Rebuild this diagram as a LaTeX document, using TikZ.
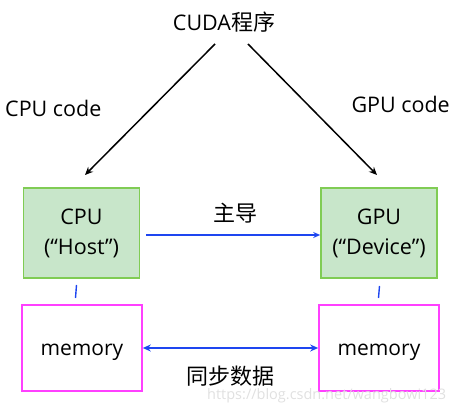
\documentclass[tikz,border=0pt]{standalone}
\usepackage{fontspec}
\setmainfont{Open Sans}
\newfontfamily\cjk{Noto Sans CJK SC}
\usetikzlibrary{arrows.meta}
\definecolor{gfill}{RGB}{200,230,202}
\definecolor{gline}{RGB}{128,204,84}
\definecolor{mline}{RGB}{255,64,255}
\definecolor{bline}{RGB}{30,70,240}
\tikzset{
  lbl/.style={font=\fontsize{21.5}{24}\selectfont, inner sep=0pt},
  zh/.style={font=\fontsize{22}{24}\cjk, inner sep=0pt},
  procbox/.style={draw=gline, fill=gfill, line width=1.6pt, minimum width=116pt, minimum height=90pt, align=center, font=\fontsize{21.5}{30}\selectfont},
  membox/.style={draw=mline, line width=1.6pt, minimum width=120pt, minimum height=86pt, text height=15pt, text depth=0pt, font=\fontsize{21}{24}\selectfont},
  flow/.style={-{Stealth[length=8pt,width=7pt]}, line width=1.5pt},
  blue/.style={draw=bline, line width=1.4pt}
}
\begin{document}
\begin{tikzpicture}[x=1pt,y=-1pt]
\useasboundingbox (0,0) rectangle (461,406);
\node[lbl] (cuda) at (224,22) {CUDA{\cjk\fontsize{22}{24}\selectfont 程序}};
\node[lbl, anchor=west] (cpucode) at (5,108) {CPU code};
\node[lbl, anchor=east] (gpucode) at (450,104) {GPU code};
\node[procbox] (cpu) at (81.5,233) {CPU\\(“Host”)};
\node[procbox] (gpu) at (379,233) {GPU\\(“Device”)};
\node[membox] (mem1) at (82,348) {memory};
\node[membox] (mem2) at (379,348) {memory};
\coordinate (a1) at (215,44);
\coordinate (a2) at (85,175);
\coordinate (b1) at (248,44);
\coordinate (b2) at (377,175);
\draw[flow] (a1) -- (a2);
\draw[flow] (b1) -- (b2);
\draw[blue, -{Stealth[length=7pt,width=6pt]}] (cpu.east) ++(6,2) coordinate (c1) (c1) -- (gpu.west |- c1);
\node[zh] (zd) at (235,213) {主导};
\draw[blue, {Stealth[length=8pt,width=7pt]}-{Stealth[length=8pt,width=7pt]}] (mem1.east) -- (mem2.west);
\node[zh] (tb) at (230,376) {同步数据};
\coordinate (d1) at (76.5,285);
\coordinate (d2) at (75.5,298);
\coordinate (e1) at (379.5,286);
\coordinate (e2) at (378.5,298);
\draw[blue] (d1) -- (d2);
\draw[blue] (e1) -- (e2);
\node[font=\fontsize{14.5}{17}\selectfont, text=black!12, anchor=west, inner sep=0pt] (wm) at (207,396) {https://blog.csdn.net/wangbowi123};
\end{tikzpicture}
\end{document}
